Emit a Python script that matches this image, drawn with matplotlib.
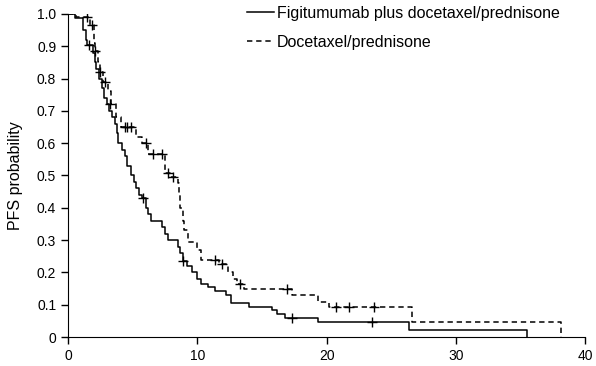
import matplotlib
matplotlib.use("Agg")
import matplotlib.pyplot as plt

plt.rcParams['font.family'] = ['Liberation Sans', 'DejaVu Sans']

# ----------------------------
# DATA
# ----------------------------

# Figitumumab plus docetaxel/prednisone: step times and PFS after each step
figi_time = [0, 0.55, 1.2, 1.4, 1.5, 1.9, 2.1, 2.2, 2.4, 2.6, 2.8, 3.0, 3.2,
             3.4, 3.6, 3.8, 3.9, 4.2, 4.4, 4.6, 4.9, 5.1, 5.3, 5.5, 5.7, 6.0,
             6.2, 6.4, 7.3, 7.5, 7.7, 8.5, 8.7, 8.9, 9.2, 9.6, 10.0, 10.3,
             10.8, 11.4, 12.2, 12.6, 14.0, 15.8, 16.2, 16.8, 19.3, 26.4, 35.5]
figi_surv = [1.0, 0.987, 0.95, 0.92, 0.905, 0.88, 0.85, 0.83, 0.80, 0.77,
             0.74, 0.72, 0.70, 0.68, 0.66, 0.63, 0.60, 0.58, 0.56, 0.53, 0.50,
             0.48, 0.46, 0.44, 0.43, 0.40, 0.38, 0.36, 0.34, 0.32, 0.30, 0.28,
             0.26, 0.235, 0.22, 0.20, 0.18, 0.165, 0.155, 0.143, 0.13, 0.105,
             0.093, 0.084, 0.071, 0.059, 0.046, 0.023, 0.0]
figi_cens_time = [1.6, 5.8, 8.9, 17.3, 23.5]
figi_cens_surv = [0.905, 0.43, 0.235, 0.059, 0.046]

# Docetaxel/prednisone
doce_time = [0, 0.6, 1.7, 2.0, 2.05, 2.1, 2.3, 2.5, 2.7, 3.1, 3.3, 3.7, 4.1,
             5.3, 5.7, 6.2, 7.5, 7.9, 8.5, 8.6, 8.7, 8.9, 9.0, 9.3, 10.0, 10.3,
             11.7, 12.4, 12.8, 13.1, 13.6, 17.3, 19.3, 20.2, 26.6, 38.1]
doce_surv = [1.0, 0.99, 0.965, 0.94, 0.91, 0.885, 0.85, 0.82, 0.79, 0.76,
             0.72, 0.68, 0.65, 0.62, 0.60, 0.567, 0.508, 0.495, 0.477, 0.44,
             0.40, 0.36, 0.33, 0.295, 0.27, 0.24, 0.226, 0.20, 0.18, 0.164,
             0.15, 0.13, 0.108, 0.093, 0.046, 0.0]
doce_cens_time = [1.5, 1.85, 2.1, 2.5, 2.9, 3.25, 4.4, 4.6, 4.9, 6.0, 6.6, 7.3,
                  7.7, 8.1, 11.4, 11.9, 13.3, 16.9, 20.7, 21.7, 23.7]
doce_cens_surv = [0.99, 0.965, 0.885, 0.82, 0.79, 0.72, 0.65, 0.65, 0.65, 0.60,
                  0.567, 0.567, 0.508, 0.495, 0.24, 0.226, 0.164, 0.15, 0.093,
                  0.093, 0.093]

labels = ['Figitumumab plus docetaxel/prednisone', 'Docetaxel/prednisone']

# ----------------------------
# PLOT
# ----------------------------

fig = plt.figure(figsize=(5.96, 3.66), dpi=100)
ax = fig.add_axes([0.114, 0.079, 0.868, 0.883])

ax.step(figi_time, figi_surv, where='post', color='black', lw=1.1,
        label=labels[0])
ax.step(doce_time, doce_surv, where='post', color='black', lw=1.1,
        linestyle=(0, (3.5, 2.5)), label=labels[1])
ax.plot(figi_cens_time, figi_cens_surv, '+', color='black', ms=7, mew=1.0)
ax.plot(doce_cens_time, doce_cens_surv, '+', color='black', ms=7, mew=1.0)

ax.set_xlim(0, 40)
ax.set_ylim(0, 1.0)
ax.set_xticks([0, 10, 20, 30, 40])
ax.set_yticks([i / 10 for i in range(11)])
ax.set_yticklabels(['0'] + ['%.1f' % (i / 10) for i in range(1, 11)])
ax.tick_params(direction='out', length=5, width=1, labelsize=10, colors='black')
ax.spines['top'].set_visible(False)
ax.spines['right'].set_visible(False)
ax.spines['left'].set_clip_on(False)
ax.set_ylabel('PFS probability', fontsize=11.5, labelpad=10)

ax.legend(loc='upper right', frameon=False, fontsize=11.5, handlelength=1.75,
          handletextpad=0.15, labelspacing=0.88, borderaxespad=0.0,
          bbox_to_anchor=(0.963, 1.045))

fig.savefig('out.png', dpi=100)
